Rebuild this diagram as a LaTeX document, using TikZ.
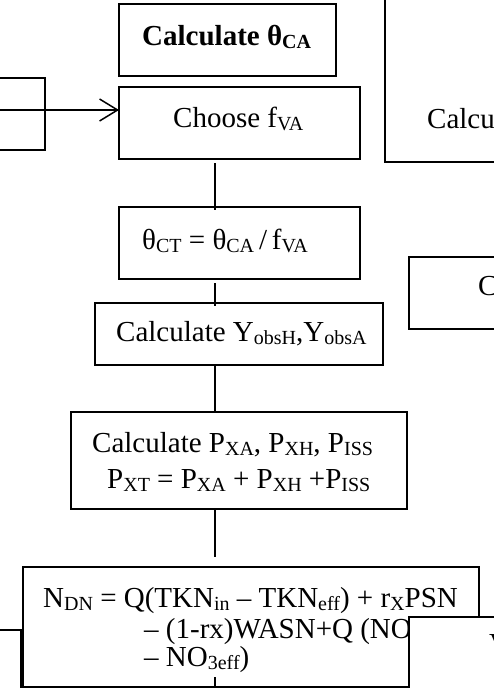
\documentclass[tikz,border=0pt]{standalone}
\usepackage{fontspec}
\setmainfont{Liberation Serif}
\usetikzlibrary{arrows.meta}
\newcommand\dn[1]{\raisebox{-3pt}{\fontsize{20}{22}\selectfont #1}}
\tikzset{
  box/.style={draw, line width=1.6pt, inner sep=0pt, outer sep=0pt, fill=white},
  txt/.style={anchor=base west, inner sep=0pt, font=\fontsize{29}{33}\selectfont},
  conn/.style={line width=1.5pt},
}
\begin{document}
\begin{tikzpicture}[x=1pt,y=-1pt]
\useasboundingbox (0,0) rectangle (493,688);
% boxes
\node[box, minimum width=217pt, minimum height=72pt] (a) at (227.5,40) {};
\node[box, minimum width=241pt, minimum height=72pt] (b) at (239.5,123) {};
\node[box, minimum width=65pt, minimum height=72pt] (l1) at (12.5,114) {};
\node[box, minimum width=135pt, minimum height=182pt] (r1) at (452.5,71) {};
\node[box, minimum width=241pt, minimum height=72pt] (c) at (239.5,243) {};
\node[box, minimum width=288pt, minimum height=62pt] (y) at (239,334) {};
\node[box, minimum width=111pt, minimum height=72pt] (r2) at (464.5,293) {};
\node[box, minimum width=336pt, minimum height=97pt] (p) at (239,460.5) {};
\node[box, minimum width=41pt, minimum height=90pt] (bl) at (0.5,675) {};
\node[box, minimum width=456pt, minimum height=120pt] (n) at (251,627) {};
% texts
\node[txt, font=\fontsize{29}{33}\selectfont\bfseries] (ta) at (142,45) {Calculate θ\dn{CA}};
\node[txt] (tb) at (173,127) {Choose f\dn{VA}};
\node[txt] (tr1) at (427,128) {Calcu};
\node[txt] (tc) at (142,249) {θ\dn{CT} = θ\dn{CA}\,/\,f\dn{VA}};
\node[txt] (ty) at (116,341) {Calculate Y\dn{obsH},Y\dn{obsA}};
\node[txt] (tr2) at (478,295) {C};
\node[txt] (tp1) at (92,452) {Calculate P\dn{XA}, P\dn{XH}, P\dn{ISS}};
\node[txt] (tp2) at (107,488) {P\dn{XT} = P\dn{XA} + P\dn{XH} +P\dn{ISS}};
\node[txt] (tn1) at (43,607) {N\dn{DN} = Q(TKN\dn{in} – TKN\dn{eff}) + r\dn{X}PSN};
\node[txt] (tn2) at (144,638) {– (1-rx)WASN+Q (NO};
\node[txt] (tn3) at (144,666) {– NO\dn{3eff})};
% overlapping box at bottom right
\node[box, minimum width=111pt, minimum height=103pt] (r3) at (464.5,668.5) {};
\node[txt] (tr3) at (489,653) {V};
% connectors
\coordinate (sp) at (215,0);
\coordinate (arrs) at (-5,110);
\coordinate (bot) at (215,700);
\draw[conn, -{Straight Barb[length=18pt,width=22pt,line width=1.5pt]}] (arrs) -- (arrs -| b.west);
\draw[conn] ([yshift=-4pt]b.south -| sp) -- ([yshift=-3pt]c.north -| sp);
\draw[conn] ([yshift=-4pt]c.south -| sp) -- ([yshift=-3pt]y.north -| sp);
\draw[conn] (y.south -| sp) -- (p.north -| sp);
\draw[conn] (p.south -| sp) -- ([yshift=10pt]n.north -| sp);
\draw[conn] ([yshift=10pt]n.south -| sp) -- (bot);
\end{tikzpicture}
\end{document}
